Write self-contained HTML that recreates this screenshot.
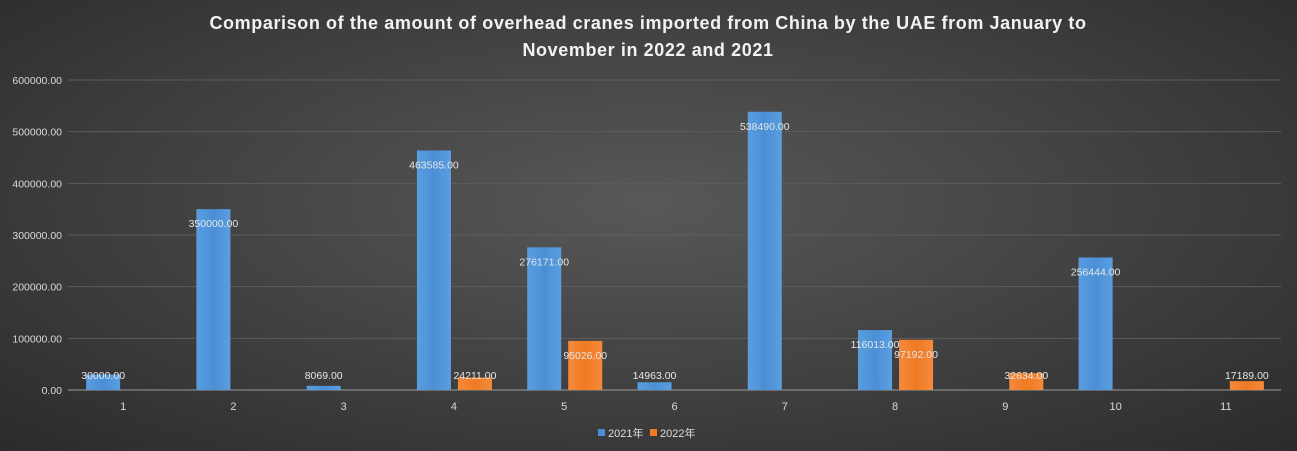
<!DOCTYPE html>
<html><head><meta charset="utf-8"><style>
body{margin:0;width:1297px;height:451px;overflow:hidden;background:radial-gradient(ellipse at 50% 45%,#585858 0%,#444 45%,#2b2b2b 100%);font-family:"Liberation Sans","Noto Sans CJK SC",sans-serif;}
svg{position:absolute;left:0;top:0}
</style></head><body>
<svg id="chart" width="1297" height="451" xmlns="http://www.w3.org/2000/svg">
<defs>
<linearGradient id="gb" x1="0" x2="1"><stop offset="0" stop-color="#5a9ee0"/><stop offset="0.5" stop-color="#4a8fd6"/><stop offset="1" stop-color="#5b9fe0"/></linearGradient>
<linearGradient id="go" x1="0" x2="1"><stop offset="0" stop-color="#f58a3c"/><stop offset="0.5" stop-color="#ef7a22"/><stop offset="1" stop-color="#f58a3c"/></linearGradient>
</defs>
<text x="648" y="29" text-anchor="middle" fill="#f2f2f2" font-size="18" font-weight="bold" letter-spacing="0.6">Comparison of the amount of overhead cranes imported from China by the UAE from January to</text>
<text x="648" y="56" text-anchor="middle" fill="#f2f2f2" font-size="18" font-weight="bold" letter-spacing="0.6">November in 2022 and 2021</text>
<g id="grid"></g><g id="bars"></g><g id="labels"></g>
<g>
<rect x="598" y="429" width="7" height="7" fill="#4a8fd6"/>
<text x="608" y="437" fill="#ddd" font-size="11">2021年</text>
<rect x="650" y="429" width="7" height="7" fill="#ef7a22"/>
<text x="660" y="437" fill="#ddd" font-size="11">2022年</text>
</g>
</svg>
<script>
const categories=["1","2","3","4","5","6","7","8","9","10","11"];
const values2021=[30000,350000,8069,463585,276171,14963,538490,116013,0,256444,0];
const values2022=[0,0,0,24211,95026,0,0,97192,32634,0,17189];
const yTicks=[0,100000,200000,300000,400000,500000,600000];
const NS="http://www.w3.org/2000/svg";
const x0=68,x1=1281,yBase=390,yTop=80,yMax=600000;
const bw=(x1-x0)/categories.length;
function y(v){return yBase-(v/yMax)*(yBase-yTop);}
function xc(i){return x0+bw*(i+0.5);}
function mk(tag,attrs,parent,txt){const e=document.createElementNS(NS,tag);for(const k in attrs)e.setAttribute(k,attrs[k]);if(txt!==undefined)e.textContent=txt;parent.appendChild(e);return e;}
const grid=document.getElementById('grid'),bars=document.getElementById('bars'),labels=document.getElementById('labels');
yTicks.forEach(t=>{
  const l=mk('line',{x1:x0,x2:x1,y1:y(t),y2:y(t),stroke:t===0?'#9a9a9a':'#5c5c5c','stroke-width':1},grid);
  
  
  const tx=mk('text',{x:62,y:y(t)+4,'text-anchor':'end',fill:'#d9d9d9','font-size':10.5},grid,t.toFixed(2));
  
  
});
categories.forEach((c,i)=>{
  const tx=mk('text',{x:xc(i),y:yBase+20,'text-anchor':'middle',fill:'#d9d9d9','font-size':11},grid,c);
  
  
  [[values2021[i],-37,'url(#gb)'],[values2022[i],4,'url(#go)']].forEach(([v,off,fill],s)=>{
    if(!v)return;
    const r=mk('rect',{x:xc(i)+off,y:y(v),width:34,height:yBase-y(v),fill:fill},bars);
    
    
    const ly=Math.min(y(v)+18,379);
    const t=mk('text',{x:xc(i)+off+17,y:ly,'text-anchor':'middle',fill:'#e6e6e6','font-size':10.5},labels,v.toFixed(2));
    
    
  });
});
</script>
</body></html>
